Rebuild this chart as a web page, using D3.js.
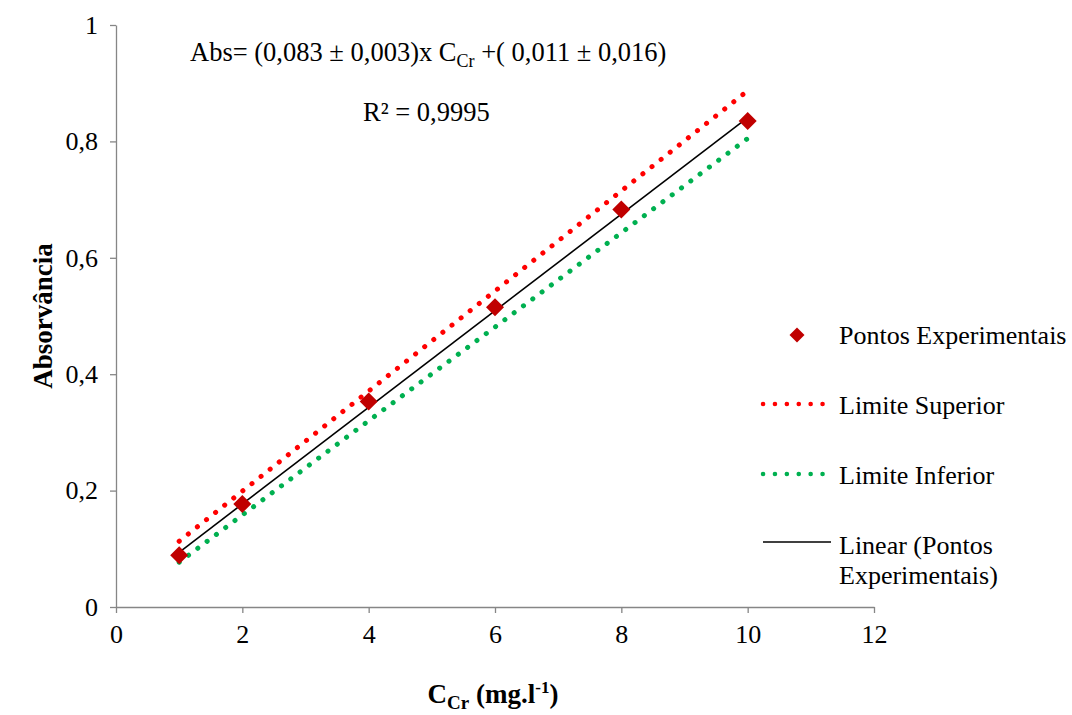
<!DOCTYPE html>
<meta charset="utf-8">
<script src="https://cdn.jsdelivr.net/npm/d3@7"></script>
<body style="margin:0">
<svg id="chart" width="1072" height="715" font-family="Liberation Serif" style="font-family:'Liberation Serif'"></svg>

<script>
    // concentracoes (mg/l) e absorvancias lidas
    var concentracao = [1, 2, 4, 6, 8, 10];
    var absorvancia = [0.089, 0.177, 0.353, 0.515, 0.683, 0.835];
    // limites superior / inferior nas mesmas concentracoes
    var limiteSuperior = [0.113, 0.199, 0.371, 0.543, 0.715, 0.887];
    var limiteInferior = [0.077, 0.158, 0.320, 0.481, 0.643, 0.805];
    // reta ajustada: Abs = 0,083 x C + 0,011
    var linearX = [1, 10];
    var linearY = [0.094, 0.841];
    var xTicks = [0, 2, 4, 6, 8, 10, 12];
    var yTicks = [0, 0.2, 0.4, 0.6, 0.8, 1];

    var FONT = "Liberation Serif";
    var fs = 26;
    var svg = d3.select("#chart");
    var x = d3.scaleLinear().domain([0, 12]).range([116, 874]);
    var y = d3.scaleLinear().domain([0, 1]).range([607, 25]);
    var fmt = function(d){ return String(d).replace(".", ","); };

    function styleAxis(g){
        g.attr("font-family", FONT).attr("font-size", fs);
        g.selectAll("path, line").attr("stroke", "#868686").attr("stroke-width", 1.3);
        g.selectAll("text")
            .attr("font-family", FONT)
            .style("font-family", "'" + FONT + "'")
            .attr("fill", "black");
    }

    svg.append("g")
        .attr("transform", "translate(0," + y(0) + ")")
        .call(d3.axisBottom(x).tickValues(xTicks).tickFormat(fmt).tickSize(6).tickPadding(12).tickSizeOuter(0))
        .call(styleAxis);

    svg.append("g")
        .attr("transform", "translate(" + x(0) + ",0)")
        .call(d3.axisLeft(y).tickValues(yTicks).tickFormat(fmt).tickSize(6).tickPadding(12).tickSizeOuter(0))
        .call(styleAxis);

    var line = d3.line()
        .x(function(d){ return x(d[0]); })
        .y(function(d){ return y(d[1]); });

    function dotted(vals, color){
        svg.append("path")
            .datum(d3.zip(concentracao, vals))
            .attr("d", line)
            .attr("fill", "none")
            .attr("stroke", color)
            .attr("stroke-width", 5)
            .attr("stroke-linecap", "round")
            .attr("stroke-dasharray", "0.1 11.5");
    }
    dotted(limiteSuperior, "#ff0000");
    dotted(limiteInferior, "#00b050");

    svg.append("path")
        .datum(d3.zip(linearX, linearY))
        .attr("d", line)
        .attr("fill", "none")
        .attr("stroke", "black")
        .attr("stroke-width", 1.6);

    var diamond = "M0,-9L9,0L0,9L-9,0Z";
    svg.selectAll(".ponto")
        .data(d3.zip(concentracao, absorvancia))
        .enter().append("path")
        .attr("class", "ponto")
        .attr("d", diamond)
        .attr("fill", "#c00000")
        .attr("transform", function(d){ return "translate(" + x(d[0]) + "," + y(d[1]) + ")"; });

    function txt(xp, yp, size){
        return svg.append("text")
            .attr("x", xp).attr("y", yp)
            .attr("font-family", FONT)
            .style("font-family", "'" + FONT + "'")
            .style("font-size", (size || fs) + "px")
            .attr("fill", "black");
    }

    // equacao
    var eq = txt(190, 61, 26.5);
    eq.append("tspan").text("Abs= (0,083 \u00b1 0,003)x C");
    eq.append("tspan").style("font-size", "18px").attr("dy", 6).text("Cr");
    eq.append("tspan").attr("dy", -6).text(" +( 0,011 \u00b1 0,016)");

    txt(363, 121, 26.5).text("R\u00b2 = 0,9995");

    // titulos
    txt(0, 0, 27)
        .attr("transform", "translate(52,316) rotate(-90)")
        .attr("text-anchor", "middle")
        .style("font-weight", "bold")
        .text("Absorv\u00e2ncia");

    var xt = txt(493, 703, 27)
        .attr("text-anchor", "middle")
        .style("font-weight", "bold");
    xt.append("tspan").text("C");
    xt.append("tspan").style("font-size", "19px").attr("dy", 6).text("Cr");
    xt.append("tspan").attr("dy", -6).text(" (mg.l");
    xt.append("tspan").style("font-size", "17px").attr("dy", -10).text("-1");
    xt.append("tspan").attr("dy", 10).text(")");

    // legenda
    var lx = 839;
    svg.append("path").attr("d", "M0,-7.5L7.5,0L0,7.5L-7.5,0Z")
        .attr("fill", "#c00000")
        .attr("transform", "translate(797,335)");
    svg.append("line").attr("x1", 763).attr("x2", 823).attr("y1", 404).attr("y2", 404)
        .attr("stroke", "#ff0000").attr("stroke-width", 4.5)
        .attr("stroke-linecap", "round").attr("stroke-dasharray", "0.1 11.8");
    svg.append("line").attr("x1", 763).attr("x2", 823).attr("y1", 474).attr("y2", 474)
        .attr("stroke", "#00b050").attr("stroke-width", 4.5)
        .attr("stroke-linecap", "round").attr("stroke-dasharray", "0.1 11.8");
    svg.append("line").attr("x1", 763).attr("x2", 831).attr("y1", 542).attr("y2", 542)
        .attr("stroke", "black").attr("stroke-width", 1.6);

    var legTexts = [["Pontos Experimentais", 344], ["Limite Superior", 414], ["Limite Inferior", 484],
        ["Linear (Pontos", 554], ["Experimentais)", 584]];
    legTexts.forEach(function(t){
        txt(lx, t[1]).text(t[0]);
    });
</script>
</body>
